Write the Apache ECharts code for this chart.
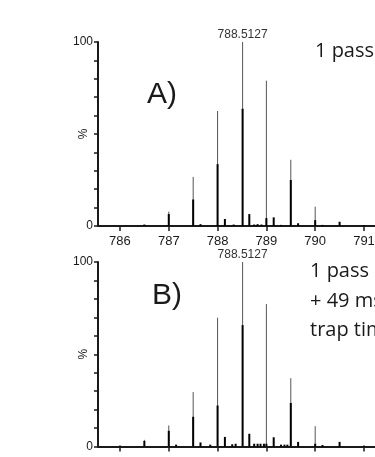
<!DOCTYPE html>
<html>
<head>
<meta charset="utf-8">
<script src="https://cdn.jsdelivr.net/npm/echarts@6/dist/echarts.min.js"></script>
<style>
  html, body { margin: 0; padding: 0; background: #fff; }
  #chart { width: 375px; height: 457px; }
</style>
</head>
<body>
<div id="chart"></div>
<script>
// m/z ticks shown under each spectrum
const mzTicks = [786, 787, 788, 789, 790, 791, 792];

// Panel A: 1 pass
const mzA      = [786.5, 787.0, 787.5, 787.65, 788.0, 788.15, 788.33, 788.5127, 788.65, 788.75, 788.82, 788.9, 789.0, 789.15, 789.3, 789.5, 789.65, 790.0, 790.15, 790.5, 791.0];
const grayA    = [0,     7.8,   26.7,  0,      62.5,  0,      0,      100,      0,      0,      0,      0,     79,    0,      0,     36,    0,      10.5,  0,      0,     0];
const blackA   = [0.8,   6.5,   14.4,  1.0,    33.6,  3.8,    0.8,    63.7,     6.5,    0.8,    1.0,    0.8,   4.3,   4.7,    0.6,   25,    1.5,    3.2,   0.6,    2.3,   0.5];

// Panel B: 1 pass + 49 ms trap time
const mzB      = [786.0, 786.5, 787.0, 787.15, 787.5, 787.65, 787.85, 788.0, 788.15, 788.3, 788.37, 788.5127, 788.65, 788.75, 788.82, 788.88, 788.95, 789.0, 789.15, 789.3, 789.37, 789.43, 789.5, 789.65, 790.0, 790.15, 790.5, 791.0];
const grayB    = [0,     3.6,   11.4,  0,      29.5,  0,      0,      69.8,  0,      0,     0,      100,      0,      0,      0,      0,      0,      77.2,  0,      0,     0,      0,      37,    0,      11,    0,      0,     0];
const blackB   = [0.5,   3.0,   8.5,   1.0,    16.1,  2.2,    1.0,    22.2,  5.2,    1.2,   1.5,    65.8,     6.9,    1.5,    1.5,    1.5,    1.5,    1.5,   5.0,    1.0,   1.0,    1.0,    23.6,  2.5,    1.5,   0.8,    2.5,   0.5];

const peakLabels = [788.5127];

const ink = '#1a1a1a';
const axisFont = 'Liberation Sans, Arial, sans-serif';
const textFont = '"Open Sans", sans-serif';

function sticks(mz, h) {
    return mz.map((m, i) => [m, h[i]]).filter(d => d[1] > 0);
}

function stickSeries(idx, data, color, width) {
    return {
        type: 'custom',
        xAxisIndex: idx,
        yAxisIndex: idx,
        data: data,
        silent: true,
        renderItem: (params, api) => {
            const p0 = api.coord([api.value(0), 0]);
            const p1 = api.coord([api.value(0), api.value(1)]);
            return {
                type: 'line',
                shape: { x1: p0[0], y1: p0[1], x2: p1[0], y2: p1[1] },
                style: { stroke: color, lineWidth: width }
            };
        }
    };
}

function labelSeries(idx, mz, gray) {
    const data = peakLabels.map(m => [m, gray[mz.indexOf(m)]]);
    return {
        type: 'custom',
        xAxisIndex: idx,
        yAxisIndex: idx,
        data: data,
        silent: true,
        renderItem: (params, api) => {
            const p = api.coord([api.value(0), api.value(1)]);
            return {
                type: 'text',
                x: p[0],
                y: p[1] - 1,
                style: {
                    text: api.value(0).toFixed(4),
                    font: '12px ' + axisFont,
                    fill: '#333',
                    align: 'center',
                    verticalAlign: 'bottom'
                }
            };
        }
    };
}

function xAxisFor(idx) {
    return {
        type: 'value',
        gridIndex: idx,
        min: 785.55,
        max: 792,
        axisLine: { onZero: false, lineStyle: { color: ink, width: 2 } },
        axisTick: { customValues: mzTicks, length: 5, lineStyle: { color: ink, width: 1.5 } },
        axisLabel: { customValues: mzTicks, margin: 9, color: ink, fontSize: 13, fontFamily: axisFont },
        splitLine: { show: false }
    };
}

function yAxisFor(idx) {
    return {
        type: 'value',
        gridIndex: idx,
        min: 0,
        max: 100,
        interval: 10,
        name: '%',
        nameLocation: 'middle',
        nameRotate: 90,
        nameGap: 8,
        nameMoveOverlap: false,
        nameTextStyle: { color: ink, fontSize: 12, fontFamily: axisFont },
        axisLine: { show: true, lineStyle: { color: ink, width: 2 } },
        axisTick: { show: true, length: 4, lineStyle: { color: ink, width: 1.5 } },
        axisLabel: {
            margin: 5, color: ink, fontSize: 12, fontFamily: axisFont, hideOverlap: false,
            formatter: v => (v === 0 || v === 100) ? String(v) : ''
        },
        splitLine: { show: false }
    };
}

const chart = echarts.init(document.getElementById('chart'), null, { renderer: 'canvas' });

chart.setOption({
    animation: false,
    backgroundColor: '#fff',
    grid: [
        { left: 98, top: 42, width: 314.8, height: 184, outerBoundsMode: 'none', containLabel: false },
        { left: 98, top: 262, width: 314.8, height: 184.5, outerBoundsMode: 'none', containLabel: false }
    ],
    xAxis: [xAxisFor(0), xAxisFor(1)],
    yAxis: [yAxisFor(0), yAxisFor(1)],
    series: [
        stickSeries(0, sticks(mzA, grayA), '#555', 1),
        stickSeries(0, sticks(mzA, blackA), '#000', 2),
        labelSeries(0, mzA, grayA),
        stickSeries(1, sticks(mzB, grayB), '#555', 1),
        stickSeries(1, sticks(mzB, blackB), '#000', 2),
        labelSeries(1, mzB, grayB)
    ],
    graphic: [
        { type: 'text', x: 147, y: 95, style: { text: 'A)', font: '30px ' + axisFont, fill: ink, verticalAlign: 'middle' } },
        { type: 'text', x: 152, y: 296, style: { text: 'B)', font: '30px ' + axisFont, fill: ink, verticalAlign: 'middle' } },
        { type: 'text', x: 315, y: 51, style: { text: '1 pass', font: '20px ' + textFont, fill: ink, verticalAlign: 'middle' } },
        { type: 'text', x: 310, y: 271, style: { text: '1 pass', font: '20px ' + textFont, fill: ink, verticalAlign: 'middle' } },
        { type: 'text', x: 310, y: 301, style: { text: '+ 49 ms', font: '20px ' + textFont, fill: ink, verticalAlign: 'middle' } },
        { type: 'text', x: 310, y: 330, style: { text: 'trap time', font: '20px ' + textFont, fill: ink, verticalAlign: 'middle' } }
    ]
});

window.addEventListener('resize', () => chart.resize());
</script>
</body>
</html>
